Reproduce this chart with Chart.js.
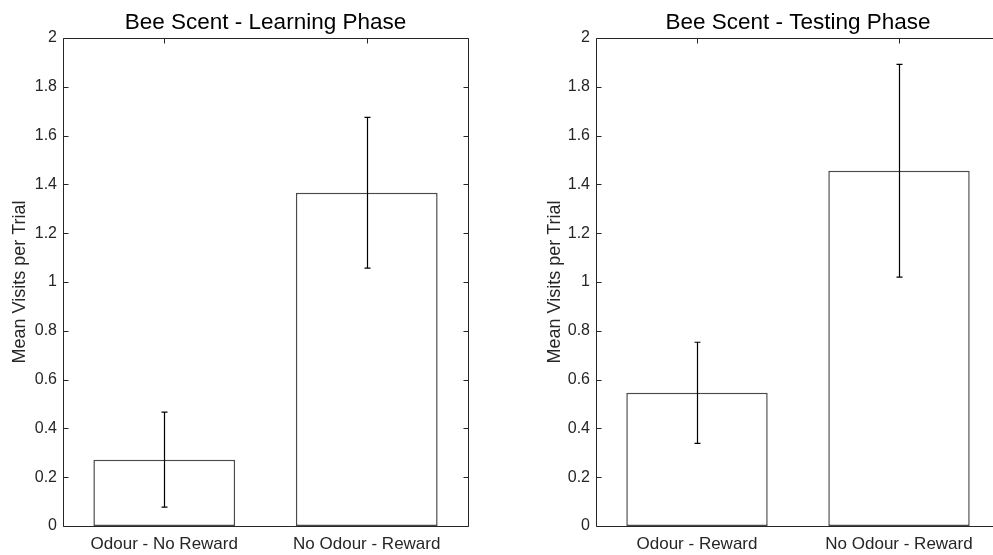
<!DOCTYPE html>
<html>
<head>
<meta charset="utf-8">
<script src="https://cdn.jsdelivr.net/npm/chart.js@4"></script>
<style>
  html, body { margin: 0; padding: 0; background: #fff; overflow: hidden; }
  .panel { position: absolute; top: 0; height: 555px; overflow: hidden; }
  #left { left: 0; width: 496px; }
  #right { left: 496px; width: 497px; }
</style>
</head>
<body>
<div class="panel" id="left"><canvas id="learnChart" width="496" height="555"></canvas></div>
<div class="panel" id="right"><canvas id="testChart" width="520" height="555"></canvas></div>
<script>
// datos
const learnLabels = ['Odour - No Reward', 'No Odour - Reward'];
const learnMeans = [0.272, 1.366];
const learnErrors = [0.195, 0.309];

const testLabels = ['Odour - Reward', 'No Odour - Reward'];
const testMeans = [0.546, 1.456];
const testErrors = [0.207, 0.436];

const yTicks = [0, 0.2, 0.4, 0.6, 0.8, 1, 1.2, 1.4, 1.6, 1.8, 2];

const axisColor = '#262626';
const fontFamily = 'Arial, "Liberation Sans", Helvetica, sans-serif';

// marco, marcas internas y barras de error al estilo MATLAB
const matlabAxes = {
    id: 'matlabAxes',
    afterDatasetsDraw(chart, args, opts) {
        const { ctx, chartArea: a, scales: { x, y } } = chart;
        const left = Math.round(a.left) + 0.5;
        const right = Math.round(a.right) + 0.5;
        const top = Math.round(a.top) + 0.5;
        const bottom = Math.round(a.bottom) + 0.5;
        ctx.save();
        ctx.strokeStyle = axisColor;
        ctx.lineWidth = 1;
        ctx.beginPath();
        // en el original el borde derecho del segundo panel queda fuera de la imagen
        ctx.moveTo(left, top); ctx.lineTo(left, bottom); ctx.lineTo(right, bottom);
        ctx.moveTo(left, top); ctx.lineTo(right, top);
        if (opts.rightEdge) {
            ctx.lineTo(right, bottom);
        }
        ctx.stroke();

        // marcas del eje y (izquierda y derecha)
        ctx.beginPath();
        yTicks.forEach(v => {
            const py = Math.round(y.getPixelForValue(v)) + 0.5;
            ctx.moveTo(left, py); ctx.lineTo(left + 5, py);
            if (opts.rightEdge) {
                ctx.moveTo(right, py); ctx.lineTo(right - 5, py);
            }
        });
        // marcas superiores del eje x
        chart.data.labels.forEach((l, i) => {
            const px = Math.round(x.getPixelForValue(i)) + 0.5;
            ctx.moveTo(px, top); ctx.lineTo(px, top + 5);
        });
        ctx.stroke();

        // barras de error
        const meta = chart.getDatasetMeta(0);
        const means = chart.data.datasets[0].data;
        ctx.strokeStyle = '#000';
        ctx.lineWidth = 1.2;
        ctx.beginPath();
        meta.data.forEach((bar, i) => {
            const px = Math.round(bar.x) + 0.5;
            const hi = y.getPixelForValue(means[i] + opts.errors[i]);
            const lo = y.getPixelForValue(means[i] - opts.errors[i]);
            ctx.moveTo(px, hi); ctx.lineTo(px, lo);
            ctx.moveTo(px - 3, hi); ctx.lineTo(px + 3, hi);
            ctx.moveTo(px - 3, lo); ctx.lineTo(px + 3, lo);
        });
        ctx.stroke();
        ctx.restore();
    }
};

function makeChart(canvasId, title, labels, means, errors, layout) {
    const ctx = document.getElementById(canvasId).getContext('2d');
    return new Chart(ctx, {
        type: 'bar',
        data: {
            labels: labels,
            datasets: [{
                data: means,
                backgroundColor: '#ffffff',
                borderColor: '#4a4a4a',
                borderWidth: 1.5,
                borderSkipped: false,
                categoryPercentage: 0.7,
                barPercentage: 1
            }]
        },
        options: {
            responsive: false,
            animation: false,
            events: [],
            layout: { padding: { left: layout.padLeft, right: layout.padRight, top: 0, bottom: 0 } },
            plugins: {
                legend: { display: false },
                tooltip: { enabled: false },
                title: {
                    display: true,
                    text: title,
                    fullSize: false,
                    color: '#000',
                    font: { family: fontFamily, size: 22.5, weight: 'normal' },
                    padding: { top: 9, bottom: 2 }
                },
                matlabAxes: { errors: errors, rightEdge: layout.rightEdge }
            },
            scales: {
                x: {
                    offset: true,
                    grid: { display: false, drawTicks: false },
                    border: { display: false },
                    ticks: { color: axisColor, padding: 8, font: { family: fontFamily, size: 17 } },
                    afterFit: s => { s.height = 29; }
                },
                y: {
                    min: 0,
                    max: 2,
                    grid: { display: false, drawTicks: false },
                    border: { display: false },
                    afterBuildTicks: s => { s.ticks = yTicks.map(v => ({ value: v })); },
                    ticks: {
                        color: axisColor,
                        padding: 6,
                        font: { family: fontFamily, size: 16 },
                        callback: v => String(Math.round(v * 10) / 10)
                    },
                    title: {
                        display: true,
                        text: 'Mean Visits per Trial',
                        color: axisColor,
                        font: { family: fontFamily, size: 18 },
                        padding: { top: layout.titlePad, bottom: 0 }
                    },
                    afterFit: s => { s.width = layout.yWidth; }
                }
            }
        },
        plugins: [matlabAxes]
    });
}

makeChart('learnChart', 'Bee Scent - Learning Phase', learnLabels, learnMeans, learnErrors,
    { padLeft: 0, padRight: 28, yWidth: 63, titlePad: 9, rightEdge: true });
makeChart('testChart', 'Bee Scent - Testing Phase', testLabels, testMeans, testErrors,
    { padLeft: 40, padRight: 16, yWidth: 60, titlePad: 8, rightEdge: false });
</script>
</body>
</html>
